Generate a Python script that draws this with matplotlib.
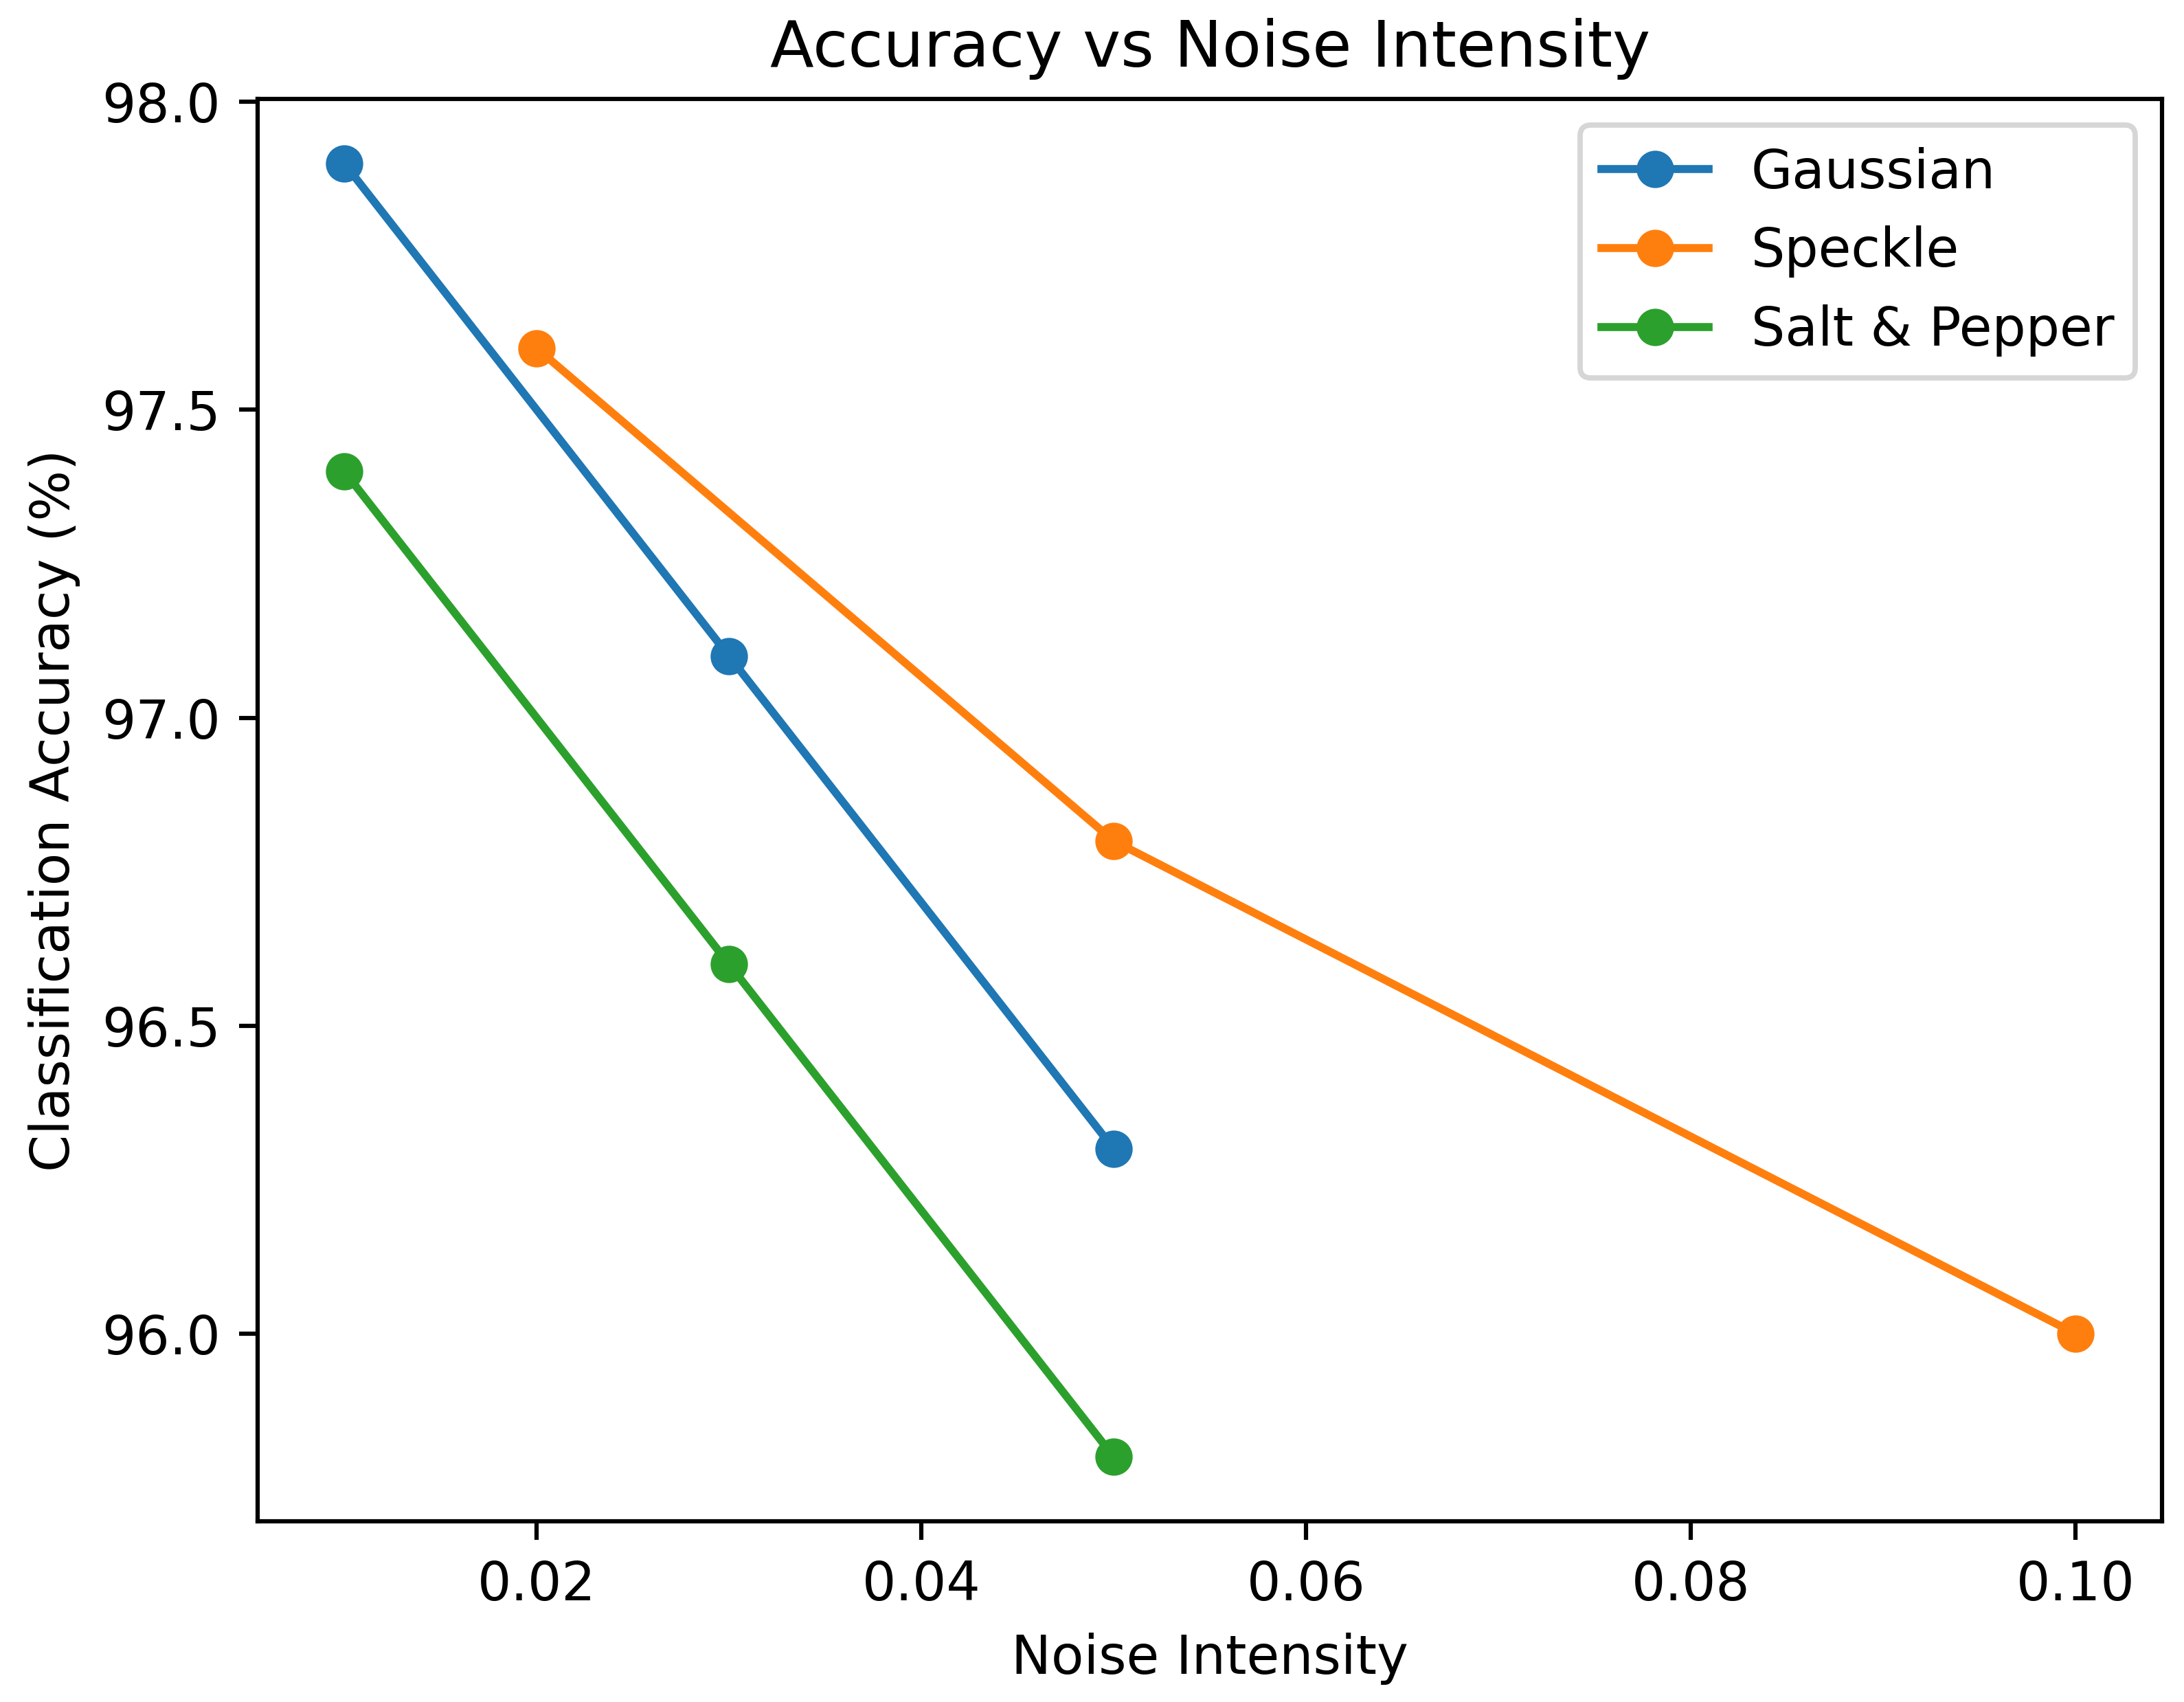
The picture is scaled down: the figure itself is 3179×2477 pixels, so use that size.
import matplotlib
matplotlib.use("Agg")
import matplotlib.pyplot as plt

noise_gauss = [0.01, 0.03, 0.05]
acc_gauss = [97.9, 97.1, 96.3]

noise_speckle = [0.02, 0.05, 0.10]
acc_speckle = [97.6, 96.8, 96.0]

noise_sp = [0.01, 0.03, 0.05]
acc_sp = [97.4, 96.6, 95.8]

fig = plt.figure(figsize=(3179 / 559, 2477 / 559), dpi=559)
ax = fig.add_axes([0.118, 0.106, 0.872, 0.836])

ax.plot(noise_gauss, acc_gauss, marker="o", label="Gaussian")
ax.plot(noise_speckle, acc_speckle, marker="o", label="Speckle")
ax.plot(noise_sp, acc_sp, marker="o", label="Salt & Pepper")

ax.set_title("Accuracy vs Noise Intensity")
ax.set_xlabel("Noise Intensity")
ax.set_ylabel("Classification Accuracy (%)")
ax.legend()

fig.savefig("out.png", dpi=559)
